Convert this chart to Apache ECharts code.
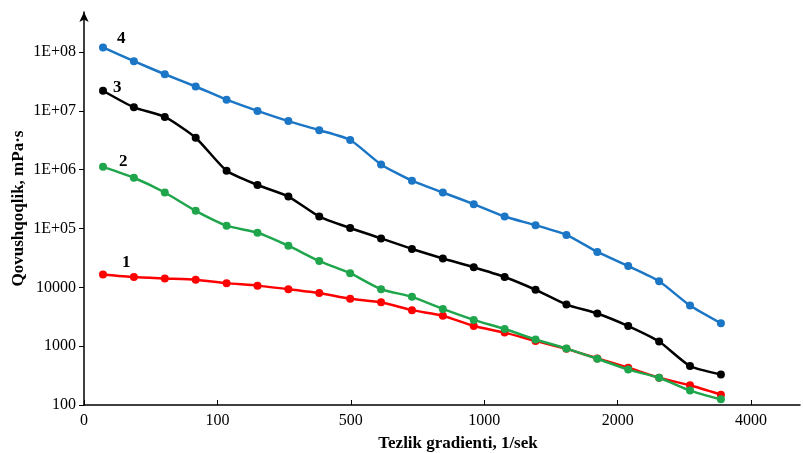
<!DOCTYPE html>
<html lang="uz">
<head>
	<meta charset="UTF-8">
	<title>Qovushqoqlik</title>
	<script src="https://cdn.jsdelivr.net/npm/echarts@6/dist/echarts.min.js"></script>
	<style>
		html, body { margin: 0; padding: 0; background: #fff; }
		#chart { width: 803px; height: 453px; }
	</style>
</head>
<body>
<div id="chart"></div>
<script>
	// o'lchash nuqtalari (tartib raqami), x o'qidagi yozuvlar
	var pointIndex = [1,2,3,4,5,6,7,8,9,10,11,12,13,14,15,16,17,18,19,20,21];
	var xTickLabels = ['0','100','500','1000','2000','4000'];
	var yTicks = [100,1000,10000,1e5,1e6,1e7,1e8];

	// qovushqoqlik, mPa·s
	var curve1 = [16600,15000,14200,13500,11800,10700,9300,8000,6400,5600,4100,3300,2200,1700,1230,900,620,430,290,216,150];
	var curve2 = [1120000,730000,410000,200000,112000,85000,51000,28000,17400,9300,6900,4300,2800,1960,1300,910,610,400,290,176,125];
	var curve3 = [22000000,11500000,7900000,3500000,960000,550000,350000,160000,102000,68000,45000,31000,22000,15000,9100,5100,3600,2200,1200,460,330];
	var curve4 = [120000000,70000000,42000000,26000000,15500000,10000000,6700000,4700000,3200000,1230000,650000,410000,260000,160000,114000,78000,40000,23000,12700,4900,2450];

	var seriesNames = ['1','2','3','4'];
	var seriesColors = ['#ff0000','#1fa64c','#000000','#1b76c6'];
	var labelOffsets = [[10,-12],[7,-5],[1,-3],[5,-9]];

	var chart = echarts.init(document.getElementById('chart'));

	function makeSeries(k, values){
		var data = [];
		for(var i=0;i<values.length;i++){
			data.push([pointIndex[i], values[i]]);
		}
		return {
			name: seriesNames[k],
			type: 'line',
			xAxisIndex: 1,
			smooth: 0.2,
			symbol: 'circle',
			symbolSize: 8,
			z: 2 + k,
			lineStyle: { color: seriesColors[k], width: 2.5 },
			itemStyle: { color: seriesColors[k] },
			label: {
				show: true,
				position: 'right',
				offset: labelOffsets[k],
				fontFamily: 'Liberation Serif',
				fontWeight: 'bold',
				fontSize: 17,
				color: '#000',
				//faqat birinchi nuqtada raqam
				formatter: function(p){
					return p.dataIndex === 0 ? p.seriesName : '';
				}
			},
			data: data
		};
	}

	var option = {
		animation: false,
		backgroundColor: '#fff',
		grid: { left: 84, right: 3, top: 12, bottom: 48, outerBoundsMode: 'none' },
		xAxis: [
			{
				type: 'value',
				min: 0,
				max: 5.367,
				interval: 1,
				name: 'Tezlik gradienti, 1/sek',
				nameLocation: 'middle',
				nameGap: 30,
				nameTextStyle: {
					fontFamily: 'Liberation Serif',
					fontWeight: 'bold',
					fontSize: 17,
					color: '#000',
					padding: [0,0,0,32]
				},
				splitLine: { show: false },
				axisLine: { lineStyle: { color: '#000', width: 1.5 } },
				axisTick: { inside: true, length: 5, lineStyle: { color: '#000' }, customValues: [0,1,2,3,4,5] },
				axisLabel: {
					customValues: [0,1,2,3,4,5],
					margin: 8,
					fontFamily: 'Liberation Serif',
					fontSize: 16,
					color: '#000',
					formatter: function(v){ return xTickLabels[Math.round(v)]; }
				}
			},
			{
				type: 'value',
				min: 0.385,
				max: 23.56,
				show: false
			}
		],
		yAxis: {
			type: 'log',
			logBase: 10,
			min: 100,
			max: 4.8e8,
			name: 'Qovushqoqlik, mPa·s',
			nameLocation: 'middle',
			nameGap: 57,
			nameMoveOverlap: false,
			nameTextStyle: {
				fontFamily: 'Liberation Serif',
				fontWeight: 'bold',
				fontSize: 17,
				color: '#000'
			},
			splitLine: { show: false },
			axisLine: {
				show: true,
				symbol: ['none','arrow'],
				symbolSize: [7,10],
				lineStyle: { color: '#000', width: 1.5 }
			},
			axisTick: { show: true, length: 5, lineStyle: { color: '#000' }, customValues: yTicks },
			axisLabel: {
				customValues: yTicks,
				margin: 8,
				fontFamily: 'Liberation Serif',
				fontSize: 16,
				color: '#000',
				formatter: function(v){
					var e = Math.round(Math.log10(v));
					if(e >= 5){
						return '1E+0' + e;
					}
					return String(Math.round(v));
				}
			}
		},
		series: [
			makeSeries(0, curve1),
			makeSeries(1, curve2),
			makeSeries(2, curve3),
			makeSeries(3, curve4)
		]
	};

	chart.setOption(option);
</script>
</body>
</html>
